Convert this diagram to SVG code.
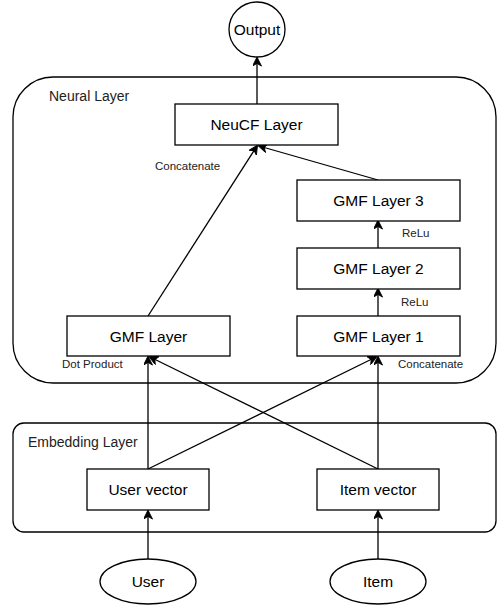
<svg xmlns="http://www.w3.org/2000/svg" width="497" height="606" viewBox="0 0 497 606">
<defs>
<marker id="arr" viewBox="0 0 10 10" refX="9" refY="5" markerWidth="10" markerHeight="9" markerUnits="userSpaceOnUse" orient="auto">
<path d="M0,0 L10,5 L0,10 L3,5 Z" fill="#000" stroke="#000" stroke-width="1"/>
</marker>
</defs>
<style>
.box{fill:#fff;stroke:#000;stroke-width:1.3}
.cont{fill:none;stroke:#000;stroke-width:1.3}
.t{font-family:"Liberation Sans",Arial,sans-serif;font-size:15.5px;fill:#000;text-anchor:middle;dominant-baseline:central}
.lbl{font-family:"Liberation Sans",Arial,sans-serif;font-size:14px;fill:#222}
.el{font-family:"Liberation Sans",Arial,sans-serif;font-size:11.5px;fill:#222}
.e{fill:none;stroke:#000;stroke-width:1.3;marker-end:url(#arr)}
</style>
<rect width="497" height="606" fill="#fff"/>
<g id="neural-layer">
<rect class="cont" x="13" y="77" width="483" height="306" rx="40" ry="40"/>
<text class="lbl" x="49" y="101">Neural Layer</text>
</g>
<g id="embedding-layer">
<rect class="cont" x="13" y="423" width="483" height="109" rx="11" ry="11"/>
<text class="lbl" x="28" y="447">Embedding Layer</text>
</g>
<g id="edges">
<line class="e" x1="257" y1="104" x2="257" y2="58"/>
<line class="e" x1="148" y1="316" x2="257" y2="146"/>
<line class="e" x1="378" y1="180" x2="259" y2="146"/>
<line class="e" x1="378" y1="248" x2="378" y2="221"/>
<line class="e" x1="378" y1="316" x2="378" y2="289"/>
<line class="e" x1="148" y1="469" x2="148" y2="357"/>
<line class="e" x1="148" y1="469" x2="376" y2="357"/>
<line class="e" x1="378" y1="469" x2="150" y2="357"/>
<line class="e" x1="378" y1="469" x2="378" y2="357"/>
<line class="e" x1="148" y1="559" x2="148" y2="511"/>
<line class="e" x1="378" y1="559" x2="378" y2="511"/>
<text class="el" x="155" y="170">Concatenate</text>
<text class="el" x="402" y="237">ReLu</text>
<text class="el" x="401" y="306">ReLu</text>
<text class="el" x="62" y="368">Dot Product</text>
<text class="el" x="398" y="368">Concatenate</text>
</g>
<g id="output">
<ellipse class="box" cx="257" cy="29.5" rx="28" ry="27.5"/>
<text class="t" x="257" y="29.5">Output</text>
</g>
<g id="neucf">
<rect class="box" x="175" y="104" width="163" height="41"/>
<text class="t" x="256.5" y="124.5">NeuCF Layer</text>
</g>
<g id="gmf3">
<rect class="box" x="297" y="180" width="163" height="41"/>
<text class="t" x="378.5" y="200.5">GMF Layer 3</text>
</g>
<g id="gmf2">
<rect class="box" x="297" y="248" width="163" height="41"/>
<text class="t" x="378.5" y="268.5">GMF Layer 2</text>
</g>
<g id="gmf1">
<rect class="box" x="297" y="316" width="163" height="40"/>
<text class="t" x="378.5" y="336">GMF Layer 1</text>
</g>
<g id="gmf">
<rect class="box" x="67" y="316" width="163" height="40"/>
<text class="t" x="148.5" y="336">GMF Layer</text>
</g>
<g id="user-vector">
<rect class="box" x="87" y="469" width="122" height="41"/>
<text class="t" x="148" y="489.5">User vector</text>
</g>
<g id="item-vector">
<rect class="box" x="317" y="469" width="122" height="41"/>
<text class="t" x="378" y="489.5">Item vector</text>
</g>
<g id="user">
<ellipse class="box" cx="148" cy="581.5" rx="48" ry="22.5"/>
<text class="t" x="148" y="581.5">User</text>
</g>
<g id="item">
<ellipse class="box" cx="378" cy="581.5" rx="48" ry="22.5"/>
<text class="t" x="378" y="581.5">Item</text>
</g>
</svg>
